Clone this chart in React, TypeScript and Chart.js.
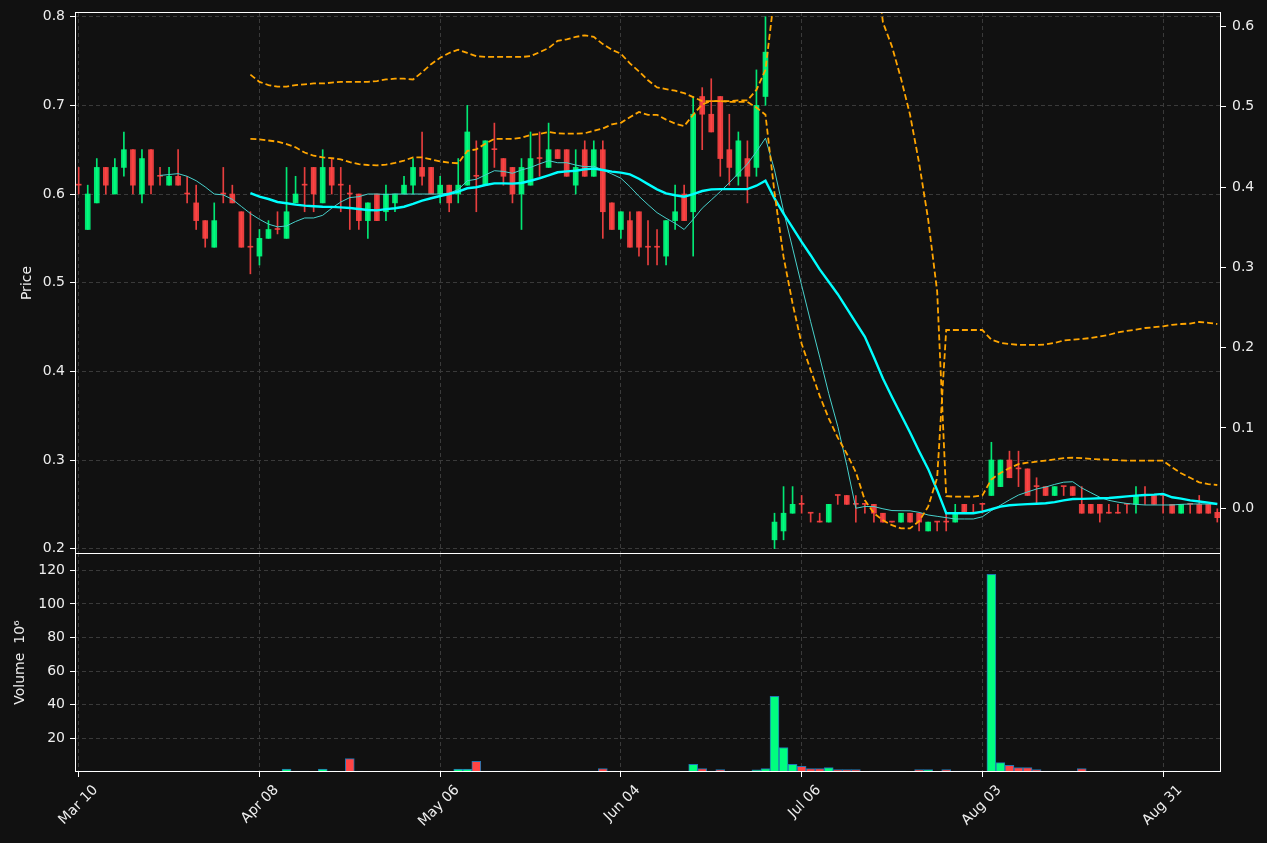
import React, { useEffect, useRef } from 'react';
import { Chart, registerables } from 'chart.js';

Chart.register(...registerables);

// ---------------- DATA ----------------
const dates = [
  'Mar 10','Mar 11','Mar 12','Mar 15','Mar 16','Mar 17','Mar 18','Mar 19','Mar 22','Mar 23',
  'Mar 24','Mar 25','Mar 26','Mar 29','Mar 30','Mar 31','Apr 01','Apr 05','Apr 06','Apr 07',
  'Apr 08','Apr 09','Apr 12','Apr 13','Apr 14','Apr 15','Apr 16','Apr 19','Apr 20','Apr 21',
  'Apr 22','Apr 23','Apr 26','Apr 27','Apr 28','Apr 29','Apr 30','May 03','May 04','May 05',
  'May 06','May 07','May 10','May 11','May 12','May 13','May 14','May 17','May 18','May 19',
  'May 20','May 21','May 24','May 25','May 26','May 27','May 28','Jun 01','Jun 02','Jun 03',
  'Jun 04','Jun 07','Jun 08','Jun 09','Jun 10','Jun 11','Jun 14','Jun 15','Jun 16','Jun 17',
  'Jun 21','Jun 22','Jun 23','Jun 24','Jun 25','Jun 28','Jun 29','Jun 30','Jul 01','Jul 02',
  'Jul 06','Jul 07','Jul 08','Jul 09','Jul 12','Jul 13','Jul 14','Jul 15','Jul 16','Jul 19',
  'Jul 20','Jul 21','Jul 22','Jul 23','Jul 26','Jul 27','Jul 28','Jul 29','Jul 30','Aug 02',
  'Aug 03','Aug 04','Aug 05','Aug 06','Aug 09','Aug 10','Aug 11','Aug 12','Aug 13','Aug 16',
  'Aug 17','Aug 18','Aug 19','Aug 20','Aug 23','Aug 24','Aug 25','Aug 26','Aug 27','Aug 30',
  'Aug 31','Sep 01','Sep 02','Sep 03','Sep 07','Sep 08','Sep 09',
];

const opens = [
  .61,.56,.59,.63,.60,.63,.65,.60,.65,.62,
  .61,.62,.60,.59,.57,.54,.60,.60,.58,.54,
  .53,.55,.56,.55,.59,.61,.63,.59,.63,.61,
  .60,.60,.57,.60,.58,.59,.60,.61,.63,.63,
  .60,.61,.60,.61,.62,.61,.65,.64,.63,.60,
  .61,.64,.63,.65,.65,.61,.65,.62,.65,.59,
  .56,.57,.58,.54,.54,.53,.57,.60,.58,.71,
  .69,.71,.65,.62,.64,.63,.71,.21,.22,.24,
  .25,.24,.23,.23,.26,.26,.25,.25,.25,.24,
  .23,.23,.24,.24,.22,.23,.23,.23,.25,.24,
  .25,.26,.27,.30,.29,.29,.27,.27,.26,.27,
  .27,.25,.25,.25,.24,.24,.25,.25,.26,.26,
  .26,.25,.24,.25,.25,.25,.241,
];

const highs = [
  .63,.61,.64,.63,.64,.67,.65,.65,.65,.63,
  .63,.65,.62,.61,.57,.59,.63,.61,.58,.58,
  .56,.57,.58,.63,.62,.63,.63,.65,.64,.63,
  .61,.60,.59,.60,.61,.60,.62,.64,.67,.63,
  .62,.61,.64,.70,.66,.66,.68,.64,.63,.64,
  .67,.67,.68,.65,.65,.65,.66,.66,.66,.59,
  .58,.58,.58,.57,.56,.57,.61,.61,.71,.72,
  .73,.71,.69,.67,.66,.74,.80,.24,.27,.27,
  .26,.24,.24,.25,.26,.26,.26,.25,.25,.24,
  .23,.24,.24,.24,.23,.23,.24,.25,.25,.25,
  .25,.32,.30,.31,.31,.29,.28,.27,.27,.27,
  .27,.27,.25,.25,.25,.25,.25,.27,.27,.26,
  .26,.25,.25,.25,.26,.25,.245,
];

const lows = [
  .60,.56,.59,.60,.60,.62,.60,.59,.60,.61,
  .61,.61,.59,.56,.54,.54,.59,.59,.54,.51,
  .52,.55,.555,.55,.59,.58,.58,.59,.60,.58,
  .56,.56,.55,.57,.57,.58,.60,.60,.61,.60,
  .59,.58,.59,.61,.58,.61,.63,.61,.59,.56,
  .61,.62,.63,.64,.62,.60,.62,.62,.55,.56,
  .55,.54,.53,.52,.52,.52,.56,.57,.53,.65,
  .67,.62,.61,.61,.59,.62,.70,.20,.21,.24,
  .24,.23,.23,.23,.25,.25,.23,.24,.23,.23,
  .23,.23,.23,.22,.22,.22,.22,.23,.24,.24,
  .24,.26,.27,.28,.27,.26,.25,.26,.26,.26,
  .26,.24,.24,.23,.24,.24,.24,.24,.25,.25,
  .24,.24,.24,.24,.24,.24,.23,
];

const closes = [
  .61,.60,.63,.61,.63,.65,.61,.64,.61,.62,
  .62,.61,.60,.57,.55,.57,.60,.59,.54,.54,
  .55,.56,.56,.58,.60,.61,.60,.63,.61,.61,
  .60,.57,.59,.57,.60,.60,.61,.63,.62,.60,
  .61,.59,.61,.67,.62,.66,.65,.62,.60,.63,
  .64,.64,.65,.64,.62,.63,.62,.65,.58,.56,
  .58,.54,.54,.54,.54,.57,.58,.57,.69,.69,
  .67,.64,.63,.66,.62,.70,.76,.23,.24,.25,
  .25,.24,.23,.25,.26,.25,.25,.25,.24,.23,
  .23,.24,.23,.23,.23,.23,.23,.24,.24,.24,
  .25,.30,.30,.28,.29,.26,.27,.26,.27,.27,
  .26,.24,.24,.24,.24,.24,.25,.26,.26,.25,
  .26,.24,.25,.25,.24,.24,.235,
];

// volume in units of 10^6
const volumes = [
  0,.6,0,0,.6,.6,0,0,0,0,
  0,0,0,.6,0,0,.6,0,.6,.6,
  0,0,0,1.7,.6,.6,0,1.7,.6,0,
  8.0,.6,0,0,0,0,0,0,.6,0,
  0,0,1.7,1.7,6.4,.6,.6,.6,.6,.6,
  0,0,.6,0,0,.6,.6,.6,2.1,.6,
  0,0,.6,0,0,.6,.6,.6,4.5,2.1,
  .6,1.5,.6,.6,.6,1.3,2.1,45.0,14.6,4.5,
  3.3,2.1,2.1,2.7,1.4,1.4,1.4,0,.6,.6,
  .6,.6,0,1.4,1.4,0,1.4,.6,.6,.6,
  0,117.6,5.6,3.9,2.7,2.7,1.4,.6,0,.6,
  .6,2.1,0,.6,.6,0,.6,.6,0,0,
  0,.6,0,0,0,0,.6,
];

const ma10 = [
  null,null,null,null,null,null,null,null,null,.621,
  .622,.623,.620,.615,.608,.600,.599,.594,.586,.578,
  .5715,.566,.563,.564,.569,.573,.573,.576,.584,.591,
  .596,.597,.600,.600,.5995,.600,.600,.600,.600,.600,
  .600,.601,.605,.615,.6166,.6215,.6263,.6255,.6234,.6271,
  .630,.634,.6376,.6353,.6353,.6327,.6308,.6313,.6271,.6226,
  .6178,.6083,.5975,.588,.579,.5727,.567,.560,.5715,.584,
  .5933,.6027,.6128,.6234,.6339,.6478,.663,.627,.581,.539,
  .497,.456,.416,.375,.338,.294,.2456,.2476,.2475,.245,
  .243,.2428,.2427,.241,.238,.2365,.235,.2335,.2335,.2335,
  .236,.243,.249,.255,.2605,.264,.2673,.2695,.2725,.275,
  .2755,.2685,.2632,.258,.2545,.2525,.251,.250,.2493,.2493,
  .2493,.2493,.250,.2504,.2504,.2504,.2504,
];

const ma20 = [
  null,null,null,null,null,null,null,null,null,null,
  null,null,null,null,null,null,null,null,null,.601,
  .597,.5944,.591,.5896,.588,.5869,.5862,.5857,.5855,.585,
  .5842,.5831,.582,.5816,.583,.584,.5857,.5888,.5925,.5952,
  .5978,.600,.6027,.6065,.6076,.6102,.612,.612,.6117,.6124,
  .615,.6178,.6211,.6245,.6256,.6263,.6279,.6286,.6271,.6252,
  .6241,.6222,.6172,.6112,.6053,.6008,.5986,.597,.600,.6034,
  .6053,.6055,.6055,.6055,.6055,.6094,.615,.595,.578,.562,
  .546,.531,.515,.501,.487,.471,.455,.439,.416,.392,
  .371,.351,.331,.310,.290,.266,.240,.240,.240,.240,
  .2418,.2445,.2475,.249,.2497,.2502,.2507,.2512,.2525,.2545,
  .256,.2562,.2564,.2568,.2572,.258,.259,.2598,.2605,.261,
  .2618,.258,.2565,.2545,.2532,.252,.2504,
];

// secondary-axis bands
const bandUpper = [
  null,null,null,null,null,null,null,null,null,null,
  null,null,null,null,null,null,null,null,null,.540,
  .531,.527,.525,.525,.527,.528,.529,.529,.530,.531,
  .531,.531,.531,.532,.534,.535,.535,.534,.543,.553,
  .561,.567,.571,.567,.563,.562,.562,.562,.562,.562,
  .563,.568,.573,.582,.584,.587,.589,.587,.578,.571,
  .566,.554,.544,.533,.524,.522,.520,.517,.512,.507,
  .507,.507,.507,.508,.508,.521,.546,.64,.76,.84,
  .90,.94,.96,.96,.94,.90,.84,.77,.70,.605,
  .575,.535,.49,.43,.36,.27,.015,.0145,.0145,.0145,
  .016,.036,.044,.050,.055,.0568,.058,.0595,.061,.0625,
  .063,.0625,.0615,.061,.0605,.060,.0593,.0593,.0593,.0593,
  .0593,.051,.0436,.038,.0324,.030,.029,
];

const bandLower = [
  null,null,null,null,null,null,null,null,null,null,
  null,null,null,null,null,null,null,null,null,.460,
  .4595,.458,.4565,.4535,.4495,.443,.439,.437,.436,.4345,
  .431,.4285,.4275,.427,.428,.430,.433,.437,.437,.4345,
  .432,.4305,.4296,.445,.447,.454,.460,.460,.460,.4615,
  .465,.466,.4685,.467,.4665,.4665,.467,.470,.473,.478,
  .480,.487,.4935,.490,.490,.484,.479,.476,.490,.503,
  .507,.507,.506,.506,.506,.499,.490,.393,.313,.255,
  .205,.172,.140,.112,.088,.068,.045,.010,-.006,-.015,
  -.021,-.025,-.025,-.016,.002,.038,.222,.222,.222,.222,
  .222,.210,.206,.2045,.2035,.2035,.2035,.204,.206,.209,
  .210,.211,.212,.214,.216,.219,.221,.2225,.2245,.2255,
  .2265,.2285,.2295,.230,.232,.231,.2295,
];

const xTickIndex = [0, 20, 40, 60, 80, 100, 120];
const priceTicks = [0.2, 0.3, 0.4, 0.5, 0.6, 0.7, 0.8];
const bandTicks = [0.0, 0.1, 0.2, 0.3, 0.4, 0.5, 0.6];
const volumeTicks = [20, 40, 60, 80, 100, 120];

// ---------------- STYLE ----------------
const BG = '#111111';
const UP = 'rgba(0,255,127,0.9)';
const DOWN = 'rgba(255,68,68,0.9)';
const VOL_UP = '#00ff7f';
const VOL_DOWN = '#ff4444';
const VOL_EDGE = '#1f77b4';
const GRID = '#3a3a3a';
const TEXT = '#eeeeee';
const FONT = { family: "'DejaVu Sans', sans-serif", size: 14 };

const fixTicks = (values: number[]) => (scale: any) => {
  scale.ticks = values.map((v) => ({ value: v }));
};
const zeroPad = (scale: any) => {
  scale.paddingTop = 0;
  scale.paddingBottom = 0;
  scale.paddingLeft = 0;
  scale.paddingRight = 0;
};
const fixWidth = (w: number) => (scale: any) => { scale.width = w; zeroPad(scale); };
const fixHeight = (h: number) => (scale: any) => { scale.height = h; zeroPad(scale); };

const spinePlugin = {
  id: 'spines',
  afterDraw(chart: any) {
    const { ctx, chartArea: a } = chart;
    ctx.save();
    ctx.strokeStyle = '#ffffff';
    ctx.lineWidth = 1;
    ctx.setLineDash([]);
    ctx.strokeRect(a.left + 0.5, a.top + 0.5, a.right - a.left - 1, a.bottom - a.top - 1);
    ctx.restore();
  },
};

const X_MIN = -0.41;
const X_MAX = 126.41;

export default function App() {
  const priceRef = useRef<HTMLCanvasElement>(null);
  const volRef = useRef<HTMLCanvasElement>(null);

  useEffect(() => {
    document.body.style.margin = '0';
    document.body.style.background = BG;

    const idx = dates.map((_, i) => i);
    const isUp = idx.map((i) => closes[i] > opens[i]);
    const candleColors = idx.map((i) => (isUp[i] ? UP : DOWN));
    const volColors = idx.map((i) => (isUp[i] ? VOL_UP : VOL_DOWN));

    const line = (arr: (number | null)[]) => arr.map((v, i) => ({ x: i, y: v }));

    const gridCommon = {
      color: GRID,
      lineWidth: 1,
      tickColor: '#ffffff',
      tickWidth: 1,
      tickLength: 5,
      tickBorderDash: [],
      offset: false,
    };
    const borderCommon = { display: false, dash: [4, 3] };

    const price = new Chart(priceRef.current as HTMLCanvasElement, {
      type: 'bar',
      data: {
        datasets: [
          {
            type: 'bar',
            data: idx.map((i) => ({ x: i, y: [lows[i], highs[i]] })) as any,
            backgroundColor: candleColors,
            barThickness: 1,
            grouped: false,
            order: 5,
            yAxisID: 'y',
          } as any,
          {
            type: 'bar',
            data: idx.map((i) => ({ x: i, y: [opens[i], closes[i]] })) as any,
            backgroundColor: candleColors,
            barThickness: 5,
            minBarLength: 1,
            grouped: false,
            order: 4,
            yAxisID: 'y',
          } as any,
          {
            type: 'line',
            data: line(ma10) as any,
            borderColor: '#48d1cc',
            borderWidth: 1,
            pointRadius: 0,
            tension: 0,
            spanGaps: false,
            order: 3,
            yAxisID: 'y',
          } as any,
          {
            type: 'line',
            data: line(ma20) as any,
            borderColor: '#00ffff',
            borderWidth: 2.4,
            pointRadius: 0,
            tension: 0,
            spanGaps: false,
            order: 2,
            yAxisID: 'y',
          } as any,
          {
            type: 'line',
            data: line(bandUpper) as any,
            borderColor: '#ffa500',
            borderWidth: 1.8,
            borderDash: [6, 3],
            pointRadius: 0,
            tension: 0,
            spanGaps: false,
            order: 1,
            yAxisID: 'y2',
          } as any,
          {
            type: 'line',
            data: line(bandLower) as any,
            borderColor: '#ffa500',
            borderWidth: 1.8,
            borderDash: [6, 3],
            pointRadius: 0,
            tension: 0,
            spanGaps: false,
            order: 1,
            yAxisID: 'y2',
          } as any,
        ],
      },
      options: {
        responsive: false,
        animation: false,
        devicePixelRatio: 1,
        events: [],
        layout: { padding: { top: 12, bottom: 0, left: 0, right: 0 }, autoPadding: false },
        plugins: { legend: { display: false }, tooltip: { enabled: false } },
        scales: {
          x: {
            type: 'linear',
            min: X_MIN,
            max: X_MAX,
            offset: false,
            afterBuildTicks: fixTicks(xTickIndex),
            afterFit: fixHeight(0),
            ticks: { display: false },
            grid: { ...gridCommon, drawTicks: false },
            border: borderCommon,
          },
          y: {
            type: 'linear',
            position: 'left',
            min: 0.194,
            max: 0.8053,
            afterBuildTicks: fixTicks(priceTicks),
            afterFit: fixWidth(75),
            ticks: {
              color: TEXT,
              font: FONT,
              padding: 5,
              callback: (v: any) => Number(v).toFixed(1),
            },
            grid: { ...gridCommon },
            border: borderCommon,
            title: {
              display: true,
              text: 'Price',
              color: TEXT,
              font: FONT,
              padding: { top: 19, bottom: 0 },
            },
          },
          y2: {
            type: 'linear',
            position: 'right',
            min: -0.0569,
            max: 0.618,
            afterBuildTicks: fixTicks(bandTicks),
            afterFit: fixWidth(46),
            ticks: {
              color: TEXT,
              font: FONT,
              padding: 6,
              callback: (v: any) => Number(v).toFixed(1),
            },
            grid: { ...gridCommon, drawOnChartArea: false },
            border: borderCommon,
          },
        },
      } as any,
      plugins: [spinePlugin],
    });

    const vol = new Chart(volRef.current as HTMLCanvasElement, {
      type: 'bar',
      data: {
        datasets: [
          {
            type: 'bar',
            data: idx.map((i) => ({ x: i, y: volumes[i] > 0 ? volumes[i] : null })) as any,
            backgroundColor: volColors,
            borderColor: VOL_EDGE,
            borderWidth: 1,
            borderSkipped: false,
            barThickness: 9,
            grouped: false,
          } as any,
        ],
      },
      options: {
        responsive: false,
        animation: false,
        devicePixelRatio: 1,
        events: [],
        layout: { padding: { top: 0, bottom: 0, left: 0, right: 46 }, autoPadding: false },
        plugins: { legend: { display: false }, tooltip: { enabled: false } },
        scales: {
          x: {
            type: 'linear',
            min: X_MIN,
            max: X_MAX,
            offset: false,
            afterBuildTicks: fixTicks(xTickIndex),
            afterFit: fixHeight(71),
            ticks: {
              color: TEXT,
              font: FONT,
              autoSkip: false,
              minRotation: 45,
              maxRotation: 45,
              padding: 5,
              labelOffset: 17,
              callback: (v: any) => dates[Math.round(Number(v))] ?? '',
            },
            grid: { ...gridCommon, drawTicks: true },
            border: borderCommon,
          },
          y: {
            type: 'linear',
            position: 'left',
            min: 0,
            max: 130.3,
            afterBuildTicks: fixTicks(volumeTicks),
            afterFit: fixWidth(75),
            ticks: {
              color: TEXT,
              font: FONT,
              padding: 5,
              callback: (v: any) => String(Math.round(Number(v))),
            },
            grid: { ...gridCommon },
            border: borderCommon,
            title: {
              display: true,
              text: 'Volume  10⁶',
              color: TEXT,
              font: FONT,
              padding: { top: 12, bottom: 0 },
            },
          },
        },
      } as any,
      plugins: [spinePlugin],
    });

    return () => {
      price.destroy();
      vol.destroy();
    };
  }, []);

  return (
    <div
      style={{
        position: 'fixed',
        left: 0,
        top: 0,
        width: 1267,
        height: 843,
        background: BG,
        overflow: 'hidden',
      }}
    >
      <canvas
        ref={priceRef}
        width={1267}
        height={554}
        style={{ position: 'absolute', left: 0, top: 0, width: 1267, height: 554 }}
      />
      <canvas
        ref={volRef}
        width={1267}
        height={290}
        style={{ position: 'absolute', left: 0, top: 553, width: 1267, height: 290 }}
      />
    </div>
  );
}
